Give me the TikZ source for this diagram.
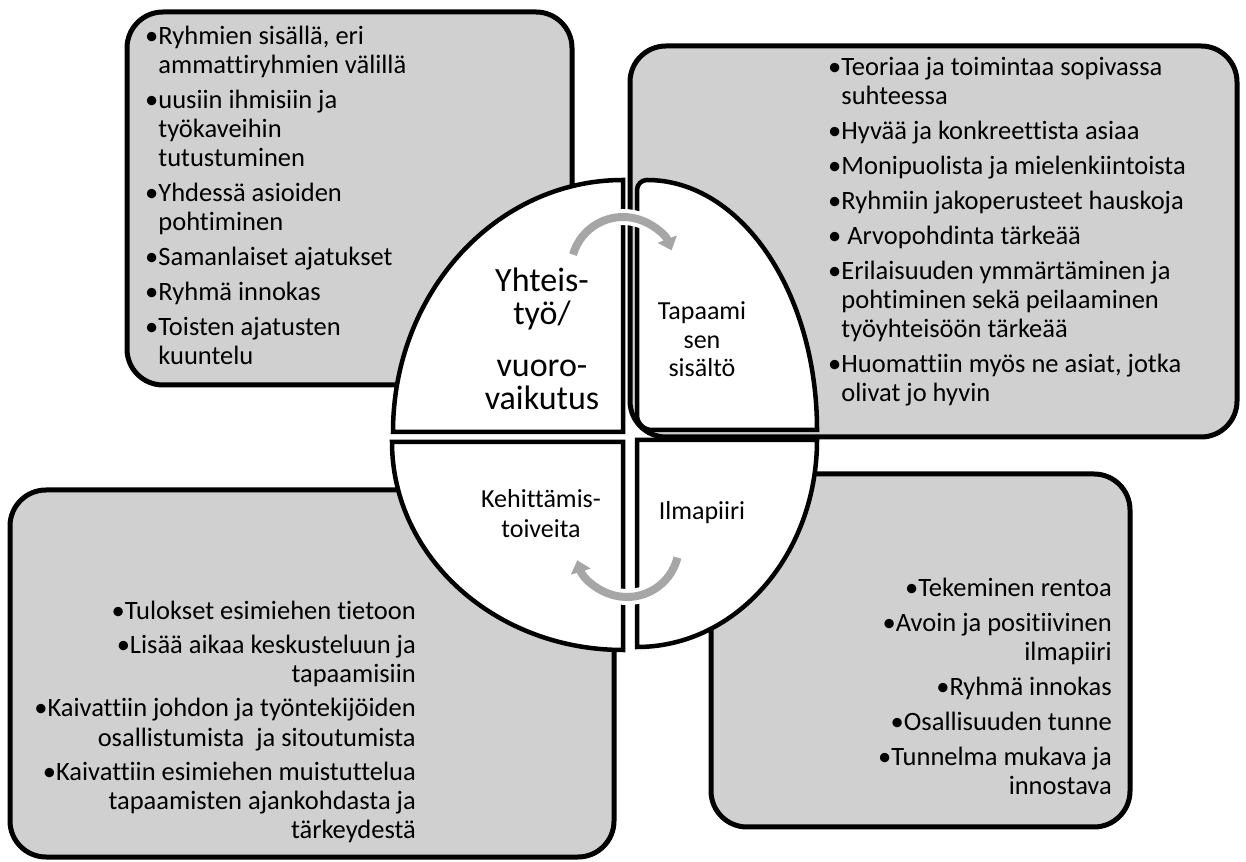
\documentclass[tikz,border=0pt]{standalone}
\usepackage{fontspec}
\setmainfont{Carlito}[Ligatures=NoCommon]
\usetikzlibrary{arrows.meta}
\definecolor{panelgray}{HTML}{D0D0D0}
\definecolor{turngray}{HTML}{A6A6A6}

\begin{document}
\begin{tikzpicture}[x=1pt,y=1pt,
  panel/.style={draw=black,fill=panelgray,line width=5pt,rounded corners=36pt},
  slice/.style={draw=black,fill=white,line width=4.5pt,line join=miter},
  hub/.style={font=\fontsize{34}{33}\selectfont,align=center,anchor=base,inner sep=0pt},
  part/.style={font=\fontsize{26}{28.5}\selectfont,align=center,anchor=base,inner sep=0pt},
  items/.style={font=\fontsize{26.5}{29}\selectfont,inner sep=0pt},
  casing/.style={draw=white,line width=16pt},
  turn/.style={draw=turngray,line width=8pt,-{Triangle[width=20pt,length=12pt]}}]
  \useasboundingbox (0,0) rectangle (1246,861);
  % outer boxes
  \draw[panel] (127,849) rectangle (572,476);
  \draw[panel] (630,815) rectangle (1237,424);
  \draw[panel] (10,371) rectangle (614,4);
  \draw[panel] (711,387) rectangle (1130,34);
  % four quarters
  \draw[slice] (623,429) -- (623,681) arc[start angle=90,end angle=180,x radius=230,y radius=252] -- cycle;
  \draw[slice] (817,431) -- (652,431) arc[start angle=270,end angle=180,radius=15] -- (637,671)
    arc[start angle=180,end angle=90,radius=10] arc[start angle=90,end angle=0,x radius=170,y radius=250] -- cycle;
  \draw[slice] (623,419) -- (392,419) arc[start angle=180,end angle=270,x radius=231,y radius=208] -- cycle;
  \draw[slice] (637,421) -- (817,421) arc[start angle=0,end angle=-90,x radius=180,y radius=207] -- cycle;
  % quarter titles (base = last line)
  \node[hub] (yhteistyo) at (542,451) {Yhteis-\\työ/\\[19pt]vuoro-\\vaikutus};
  \node[part] (sisalto) at (702,484) {Tapaami\\sen\\sisältö};
  \node[part,font=\fontsize{26}{30}\selectfont] (toiveet) at (541,323) {Kehittämis-\\toiveita};
  \node[part] (ilmapiiri) at (702,341) {Ilmapiiri};
  % lists
  \node[items,align=left,anchor=base west] (yhteistyolist) at (145,496) {%
    •Ryhmien sisällä, eri\\\hphantom{•}ammattiryhmien välillä\\[6pt]
    •uusiin ihmisiin ja\\\hphantom{•}työkaveihin\\\hphantom{•}tutustuminen\\[6pt]
    •Yhdessä asioiden\\\hphantom{•}pohtiminen\\[6pt]
    •Samanlaiset ajatukset\\[6pt]
    •Ryhmä innokas\\[6pt]
    •Toisten ajatusten\\\hphantom{•}kuuntelu};
  \node[items,align=left,anchor=base west] (sisaltolist) at (828,459) {%
    •Teoriaa ja toimintaa sopivassa\\\hphantom{•}suhteessa\\[6pt]
    •Hyvää ja konkreettista asiaa\\[6pt]
    •Monipuolista ja mielenkiintoista\\[6pt]
    •Ryhmiin jakoperusteet hauskoja\\[6pt]
    • Arvopohdinta tärkeää\\[6pt]
    •Erilaisuuden ymmärtäminen ja\\\hphantom{•}pohtiminen sekä peilaaminen\\\hphantom{•}työyhteisöön tärkeää\\[6pt]
    •Huomattiin myös ne asiat, jotka\\\hphantom{•}olivat jo hyvin};
  \node[items,align=right,anchor=base east] (toiveetlist) at (416,23) {%
    •Tulokset esimiehen tietoon\\[5pt]
    •Lisää aikaa keskusteluun ja\\tapaamisiin\\[5pt]
    •Kaivattiin johdon ja työntekijöiden\\osallistumista\ \ ja sitoutumista\\[5pt]
    •Kaivattiin esimiehen muistuttelua\\tapaamisten ajankohdasta ja\\tärkeydestä};
  \node[items,align=right,anchor=base east] (ilmapiirilist) at (1112,66) {%
    •Tekeminen rentoa\\[6pt]
    •Avoin ja positiivinen\\ilmapiiri\\[6pt]
    •Ryhmä innokas\\[6pt]
    •Osallisuuden tunne\\[6pt]
    •Tunnelma mukava ja\\innostava};
  % cycle arrows
  \foreach \cx/\cy/\a/\b in {623/592/164/21,627/316/-14/-163} {
    \draw[casing] (\cx,\cy) ++(\a:52) arc[start angle=\a,end angle=\b,radius=52];
    \draw[turn] (\cx,\cy) ++(\a:52) arc[start angle=\a,end angle=\b,radius=52];
  }
\end{tikzpicture}
\end{document}
